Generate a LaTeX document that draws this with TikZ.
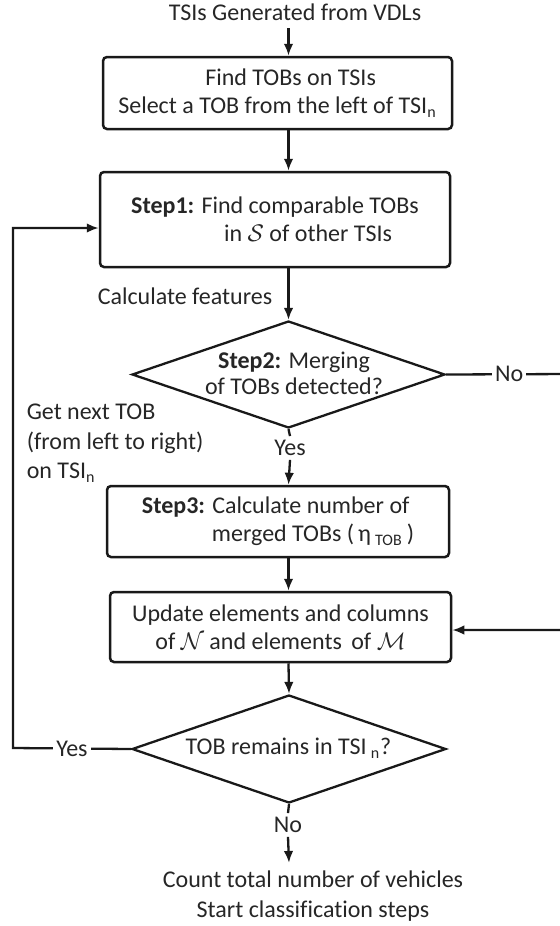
\documentclass[tikz,border=0pt]{standalone}
\usepackage{fontspec}
\setmainfont{Carlito}[Ligatures=NoCommon]
\usetikzlibrary{shapes.geometric,arrows.meta,calc}
\begin{document}
\begin{tikzpicture}[x=0.5pt,y=-0.5pt, line width=1.15pt, color=black!90,
  every node/.style={font=\fontsize{12}{14}\selectfont, text=black!85},
  boxst/.style={draw=black!90, rounded corners=2pt, line width=1.25pt, inner sep=0pt},
  dia/.style={draw=black!90, diamond, inner sep=0pt, line width=1.15pt},
  arr/.style={-{Latex[length=6pt,width=4.8pt]}},
  lab/.style={fill=white, inner sep=1.5pt}]
\useasboundingbox (0,0) rectangle (559,926);

\node (title) at (295,12) {TSIs Generated from VDLs};
\node[boxst, minimum width=174.5pt, minimum height=36pt, align=left] (box1) at (277.5,93)
  {\hspace*{43.5pt}Find TOBs on TSIs\\Select a TOB from the left of TSI\textsubscript{n}};
\node[boxst, minimum width=175pt, minimum height=47.5pt, align=left] (box2) at (275,219.5)
  {\textbf{Step1:} Find comparable TOBs\\\hspace*{46.5pt}in $\mathcal{S}$ of other TSIs};
\node (calc) at (185,296) {Calculate features};
\node[dia, minimum width=156.5pt, minimum height=53.5pt] (d1) at (288.5,374.5) {};
\node[align=center, font=\fontsize{12}{13}\selectfont] (t1) at (294,373) {\textbf{Step2:} Merging\\of TOBs detected?};
\node[inner sep=1.5pt] (yes1) at (290,448) {Yes};
\node[boxst, minimum width=171pt, minimum height=35.5pt, align=left] (box3) at (278,521.5)
  {\textbf{Step3:} Calculate number of\\\hspace*{35pt}merged TOBs (\,η\,\textsubscript{TOB}\,)};
\node[boxst, minimum width=170.5pt, minimum height=35pt, align=center] (box4) at (280.5,627)
  {Update elements and columns\\of $\mathcal{N}$ and elements\, of $\mathcal{M}$};
\node[dia, minimum width=157pt, minimum height=54pt] (d2) at (289,749) {};
\node (t2) at (288.5,748) {TOB remains in TSI\,\textsubscript{n}?};
\node[inner sep=1.5pt] (no2) at (288,825) {No};
\node[align=center, font=\fontsize{12}{15}\selectfont] (endt) at (313,896)
  {Count total number of vehicles\\Start classification steps};
\node[anchor=west, align=left, font=\fontsize{12}{14.75}\selectfont] (left) at (19,443.5)
  {Get next TOB\\(from left to right)\\on TSI\textsubscript{n}};

\coordinate (loopc) at (13,748);
\coordinate (rightc) at (572,374);

\draw[arr] (title.south -| d1) -- (box1.north -| d1);
\draw[arr] (box1.south -| d1) -- (box2.north -| d1);
\draw[arr] (box2.south -| d1) -- (d1.north);
\draw (d1.south) -- (yes1.north);
\draw[arr] (yes1.south) -- (box3.north -| d1);
\draw[arr] (box3.south -| d1) -- (box4.north -| d1);
\draw[arr] (box4.south -| d1) -- (d2.north);
\draw (d2.south) -- (no2.north);
\draw[arr] (no2.south) -- (endt.north -| d2);
\draw[arr] (d2.west) -- node[lab]{Yes} (loopc) |- ($(box2.west)+(0,8.5)$);
\draw[arr] (d1.east) -- node[lab]{No} (rightc) |- ($(box4.east)+(0,3)$);
\end{tikzpicture}
\end{document}
